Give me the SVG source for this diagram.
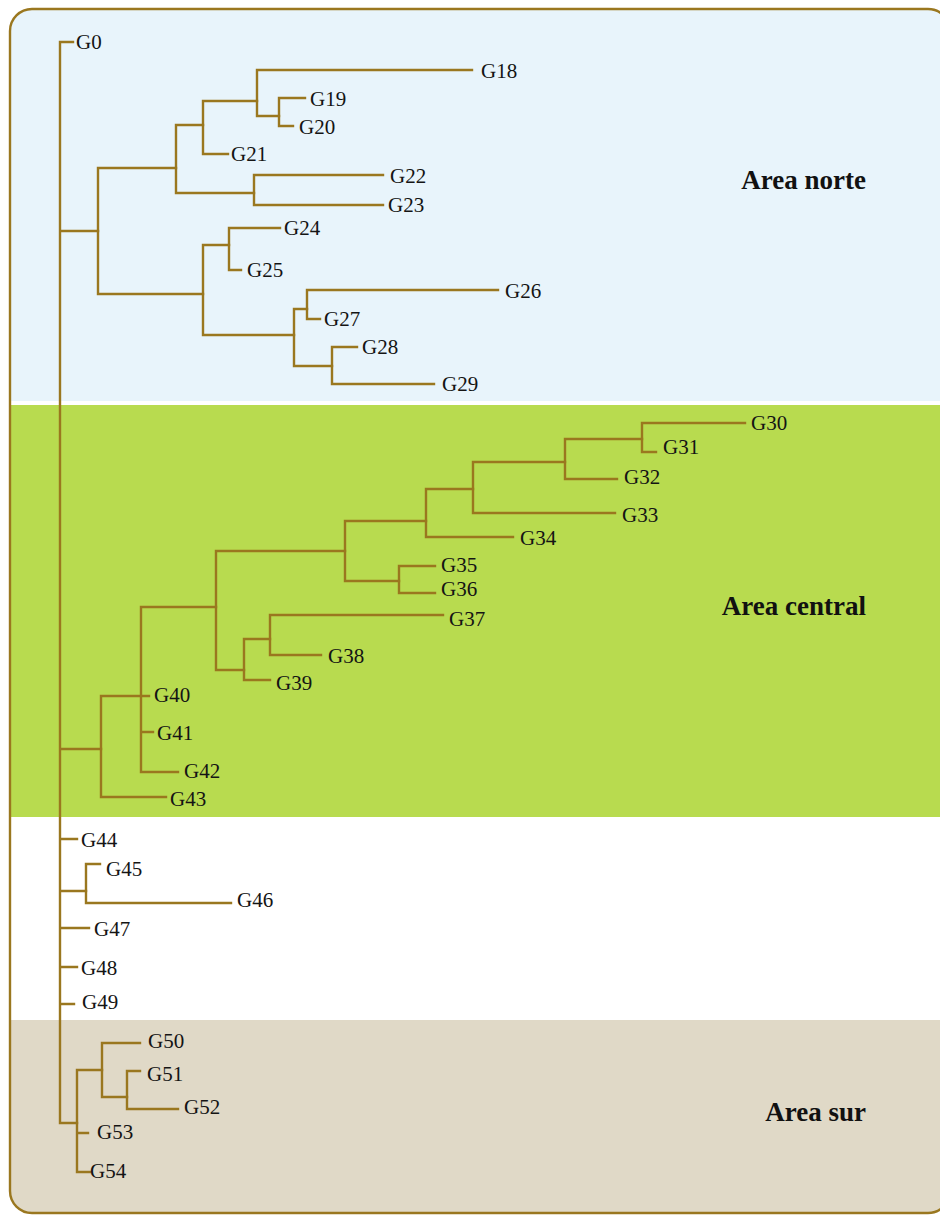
<svg xmlns="http://www.w3.org/2000/svg" width="940" height="1215" viewBox="0 0 940 1215">
  <defs>
    <style>
      .edge { fill: none; stroke: #9a771f; stroke-width: 2.4; stroke-linecap: square; }
      .lbl { font-family: "Liberation Serif", "Times New Roman", serif; font-size: 21px; fill: #141414; }
      .area { font-family: "Liberation Serif", "Times New Roman", serif; font-size: 27px; font-weight: bold; fill: #111; text-anchor: end; }
    </style>
    <clipPath id="frameClip">
      <rect x="10" y="9" width="940" height="1204" rx="22" ry="22"/>
    </clipPath>
  </defs>

  <rect width="940" height="1215" fill="#ffffff"/>

  <!-- zone bands -->
  <g id="bands" clip-path="url(#frameClip)">
    <rect x="0" y="0" width="960" height="401" fill="#e8f4fb"/>
    <rect x="0" y="401" width="960" height="4" fill="#ffffff"/>
    <rect x="0" y="405" width="960" height="412" fill="#b8db4f"/>
    <rect x="0" y="817" width="960" height="203" fill="#ffffff"/>
    <rect x="0" y="1020" width="960" height="200" fill="#e0d9c7"/>
  </g>
  <rect id="frame" x="10" y="9" width="940" height="1204" rx="22" ry="22" fill="none" stroke="#9a771f" stroke-width="2.4"/>

  <!-- zone titles -->
  <g id="area-norte"><text class="area" x="866" y="189">Area norte</text></g>
  <g id="area-central"><text class="area" x="866" y="615">Area central</text></g>
  <g id="area-sur"><text class="area" x="866" y="1121">Area sur</text></g>

  <!-- tree branches -->
  <g id="connectors" class="edge">
    <!-- root -->
    <path class="edge" d="M60 42 V1123 M60 42 H73 M60 231 H98 M60 749 H101 M60 839 H77 M60 891 H86 M60 928 H89 M60 967 H77 M60 1004 H74 M60 1123 H77"/>
    <!-- north clade -->
    <path class="edge" d="M98 168 V294 M98 168 H176 M98 294 H203"/>
    <path class="edge" d="M176 125 V193 M176 125 H203 M176 193 H254"/>
    <path class="edge" d="M203 101 V154 M203 101 H257 M203 154 H228"/>
    <path class="edge" d="M257 70 V116 M257 70 H472 M257 116 H279"/>
    <path class="edge" d="M279 98 V126 M279 98 H305 M279 126 H293"/>
    <path class="edge" d="M254 175 V205 M254 175 H383 M254 205 H383"/>
    <path class="edge" d="M203 245 V335 M203 245 H229 M203 335 H294"/>
    <path class="edge" d="M229 228 V270 M229 228 H280 M229 270 H241"/>
    <path class="edge" d="M294 309 V366 M294 309 H307 M294 366 H332"/>
    <path class="edge" d="M307 290 V319 M307 290 H498 M307 319 H320"/>
    <path class="edge" d="M332 347 V384 M332 347 H357 M332 384 H434"/>
    <!-- central clade -->
    <path class="edge" d="M101 696 V797 M101 696 H149 M101 797 H166"/>
    <path class="edge" d="M141 607 V772 M141 732 H153 M141 772 H178 M141 607 H216"/>
    <path class="edge" d="M216 551 V670 M216 551 H345 M216 670 H244"/>
    <path class="edge" d="M244 639 V680 M244 639 H270 M244 680 H270"/>
    <path class="edge" d="M270 615 V655 M270 615 H443 M270 655 H321"/>
    <path class="edge" d="M345 521 V581 M345 521 H426 M345 581 H399"/>
    <path class="edge" d="M399 566 V593 M399 566 H435 M399 593 H435"/>
    <path class="edge" d="M426 489 V537 M426 489 H473 M426 537 H513"/>
    <path class="edge" d="M473 462 V513 M473 462 H565 M473 513 H615"/>
    <path class="edge" d="M565 439 V479 M565 439 H642 M565 479 H617"/>
    <path class="edge" d="M642 423 V452 M642 423 H745 M642 452 H656"/>
    <!-- unzoned -->
    <path class="edge" d="M86 864 V903 M86 864 H100 M86 903 H231"/>
    <!-- south clade -->
    <path class="edge" d="M77 1070 V1172 M77 1070 H102 M77 1133 H88 M77 1172 H90"/>
    <path class="edge" d="M102 1043 V1097 M102 1043 H140 M102 1097 H127"/>
    <path class="edge" d="M127 1071 V1109 M127 1071 H140 M127 1109 H178"/>
  </g>

  <!-- leaves -->
  <g id="G0"><text class="lbl" x="76" y="49">G0</text></g>
  <g id="G18"><text class="lbl" x="481" y="78">G18</text></g>
  <g id="G19"><text class="lbl" x="310" y="106">G19</text></g>
  <g id="G20"><text class="lbl" x="299" y="134">G20</text></g>
  <g id="G21"><text class="lbl" x="231" y="161">G21</text></g>
  <g id="G22"><text class="lbl" x="390" y="183">G22</text></g>
  <g id="G23"><text class="lbl" x="388" y="212">G23</text></g>
  <g id="G24"><text class="lbl" x="284" y="235">G24</text></g>
  <g id="G25"><text class="lbl" x="247" y="277">G25</text></g>
  <g id="G26"><text class="lbl" x="505" y="298">G26</text></g>
  <g id="G27"><text class="lbl" x="324" y="326">G27</text></g>
  <g id="G28"><text class="lbl" x="362" y="354">G28</text></g>
  <g id="G29"><text class="lbl" x="442" y="391">G29</text></g>
  <g id="G30"><text class="lbl" x="751" y="430">G30</text></g>
  <g id="G31"><text class="lbl" x="663" y="454">G31</text></g>
  <g id="G32"><text class="lbl" x="624" y="484">G32</text></g>
  <g id="G33"><text class="lbl" x="622" y="522">G33</text></g>
  <g id="G34"><text class="lbl" x="520" y="545">G34</text></g>
  <g id="G35"><text class="lbl" x="441" y="572">G35</text></g>
  <g id="G36"><text class="lbl" x="441" y="596">G36</text></g>
  <g id="G37"><text class="lbl" x="449" y="626">G37</text></g>
  <g id="G38"><text class="lbl" x="328" y="663">G38</text></g>
  <g id="G39"><text class="lbl" x="276" y="690">G39</text></g>
  <g id="G40"><text class="lbl" x="154" y="702">G40</text></g>
  <g id="G41"><text class="lbl" x="157" y="740">G41</text></g>
  <g id="G42"><text class="lbl" x="184" y="778">G42</text></g>
  <g id="G43"><text class="lbl" x="170" y="806">G43</text></g>
  <g id="G44"><text class="lbl" x="81" y="847">G44</text></g>
  <g id="G45"><text class="lbl" x="106" y="876">G45</text></g>
  <g id="G46"><text class="lbl" x="237" y="907">G46</text></g>
  <g id="G47"><text class="lbl" x="94" y="936">G47</text></g>
  <g id="G48"><text class="lbl" x="81" y="975">G48</text></g>
  <g id="G49"><text class="lbl" x="82" y="1009">G49</text></g>
  <g id="G50"><text class="lbl" x="148" y="1048">G50</text></g>
  <g id="G51"><text class="lbl" x="147" y="1081">G51</text></g>
  <g id="G52"><text class="lbl" x="184" y="1114">G52</text></g>
  <g id="G53"><text class="lbl" x="97" y="1139">G53</text></g>
  <g id="G54"><text class="lbl" x="90" y="1178">G54</text></g>
</svg>
